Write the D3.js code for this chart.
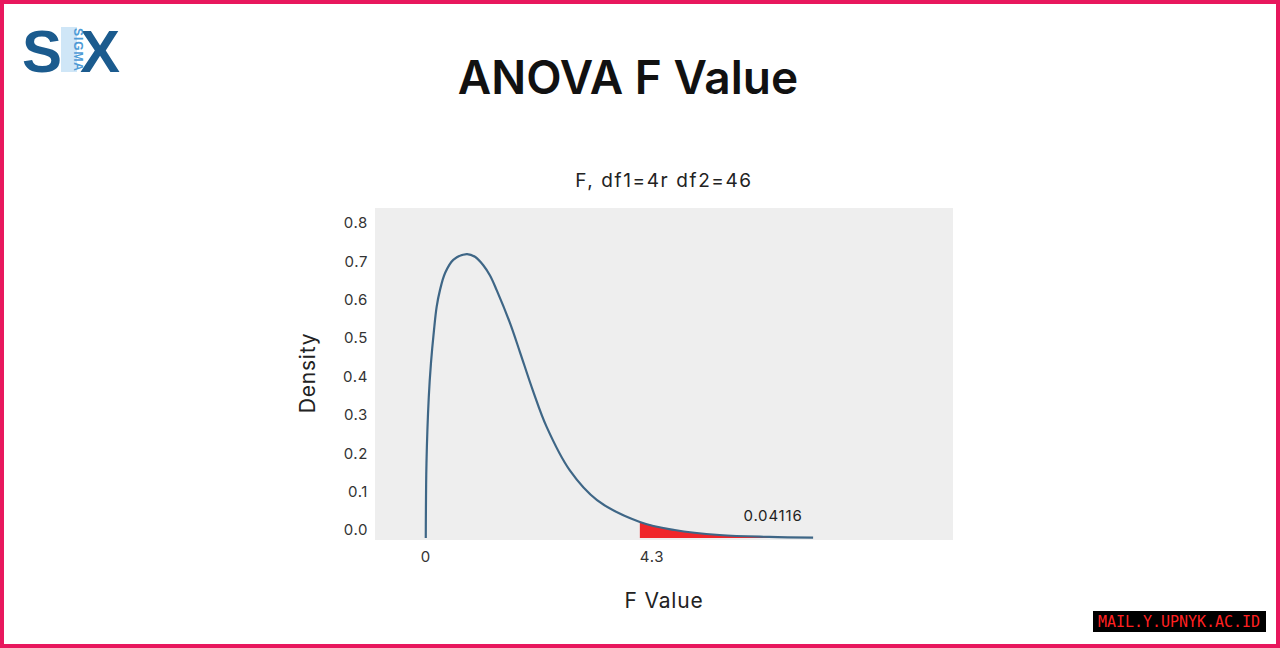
<!DOCTYPE html>
<html>
<head>
<meta charset="utf-8">
<script src="https://cdn.jsdelivr.net/npm/d3@7"></script>
<style>
  html, body { margin: 0; padding: 0; background: #fff; }
  svg { display: block; }
</style>
</head>
<body>
<svg id="chart" width="1280" height="648"></svg>
<script>
// ---- data ----
const fValues  = [0, 0.014, 0.06, 0.104, 0.165, 0.219, 0.285, 0.386, 0.552, 0.822, 0.988, 1.155, 1.290, 1.424, 1.692, 1.893, 2.15, 2.43, 2.89, 3.44, 4.30, 5.0, 5.9, 6.9, 7.78];
const density  = [0, 0.195, 0.367, 0.456, 0.542, 0.603, 0.646, 0.690, 0.725, 0.740, 0.733, 0.711, 0.684, 0.646, 0.560, 0.484, 0.385, 0.289, 0.177, 0.099, 0.042, 0.021, 0.008, 0.003, 0.001];
const yTicks   = [0, 0.1, 0.2, 0.3, 0.4, 0.5, 0.6, 0.7, 0.8];
const yTickLabels = ["0.0", "0.1", "0.2", "0.3", "0.4", "0.5", "0.6", "0.7", "0.8"];
const xTicks   = [0, 4.3];
const xTickLabels = ["0", "4.3"];
const criticalF = 4.3;
const tailLabel = "0.04116";
const titleText = "ANOVA F Value";
const subtitleText = "F, df1=4r df2=46";
const xLabel = "F Value";
const yLabel = "Density";

const svg = d3.select("#chart");
const W = 1280, H = 648;
const FONT = "Inter, Liberation Sans, sans-serif";

// scales
const x = d3.scaleLinear().domain([-1.02, 10.59]).range([375, 953]);
const y = d3.scaleLinear().domain([-0.005, 0.86]).range([540, 208]);

// frame border
svg.append("rect").attr("x", 2).attr("y", 2).attr("width", W - 4).attr("height", H - 4)
  .attr("fill", "#fff").attr("stroke", "#e8175d").attr("stroke-width", 4);

// logo
const logo = svg.append("g");
logo.append("text").attr("x", 22).attr("y", 72).text("S")
  .attr("font-family", "Liberation Sans, Arial, sans-serif").attr("font-weight", "bold")
  .attr("font-size", 60).attr("fill", "#1b5b8e");
logo.append("text").attr("x", 80).attr("y", 72).text("X")
  .attr("font-family", "Liberation Sans, Arial, sans-serif").attr("font-weight", "bold")
  .attr("font-size", 60).attr("fill", "#1b5b8e");
logo.append("rect").attr("x", 61).attr("y", 27).attr("width", 16).attr("height", 45).attr("fill", "#cfe6f7");
logo.append("text").attr("transform", "translate(74,28) rotate(90)").text("SIGMA")
  .attr("font-family", "Liberation Sans, Arial, sans-serif").attr("font-weight", "bold")
  .attr("font-size", 12).attr("textLength", 43).attr("fill", "#4d9bd6");

// title
svg.append("text").attr("x", 628).attr("y", 94).attr("text-anchor", "middle")
  .text(titleText).attr("font-family", FONT)
  .attr("font-weight", 600).attr("font-size", 46).attr("fill", "#111");

// subtitle
svg.append("text").attr("x", 664).attr("y", 187).attr("text-anchor", "middle")
  .text(subtitleText).attr("font-family", FONT)
  .attr("font-size", 19).attr("letter-spacing", 1.6).attr("fill", "#222");

// panel
svg.append("rect").attr("x", x.range()[0]).attr("y", y.range()[1])
  .attr("width", x.range()[1] - x.range()[0]).attr("height", y.range()[0] - y.range()[1])
  .attr("fill", "#eeeeee");

// y tick labels
svg.append("g").selectAll("text").data(yTicks).join("text")
  .attr("x", 368).attr("y", d => y(d) - 8).attr("dy", "0.35em")
  .attr("text-anchor", "end").text((d, i) => yTickLabels[i])
  .attr("font-family", FONT).attr("letter-spacing", 0.6)
  .attr("font-size", 15).attr("fill", "#333");

// x tick labels
svg.append("g").selectAll("text").data(xTicks).join("text")
  .attr("x", d => x(d)).attr("y", 562)
  .attr("text-anchor", (d, i) => i === 0 ? "middle" : "start")
  .text((d, i) => xTickLabels[i])
  .attr("font-family", FONT).attr("letter-spacing", 0.6)
  .attr("font-size", 15).attr("fill", "#333");

// axis labels
svg.append("text").attr("transform", "translate(315,373) rotate(-90)")
  .attr("text-anchor", "middle").text(yLabel)
  .attr("font-family", FONT).attr("letter-spacing", 0.8)
  .attr("font-size", 21).attr("fill", "#222");
svg.append("text").attr("x", 664).attr("y", 608).attr("text-anchor", "middle")
  .text(xLabel).attr("font-family", FONT).attr("letter-spacing", 0.8)
  .attr("font-size", 21).attr("fill", "#222");

// data
const pts = fValues.map((f, i) => ({ f, d: density[i] }));
const tail = pts.filter(p => p.f >= criticalF);

const curve = d3.curveCatmullRom.alpha(0.5);
const area = d3.area().x(p => x(p.f)).y0(y(0)).y1(p => y(p.d)).curve(curve);
svg.append("path").datum(tail).attr("d", area).attr("fill", "#f0262a");

const line = d3.line().x(p => x(p.f)).y(p => y(p.d)).curve(curve);
svg.append("path").datum(pts).attr("d", line)
  .attr("fill", "none").attr("stroke", "#3e6686").attr("stroke-width", 2.2);

// tail annotation
svg.append("text").attr("x", 773).attr("y", 521).attr("text-anchor", "middle")
  .text(tailLabel).attr("font-family", FONT).attr("letter-spacing", 0.8)
  .attr("font-size", 15).attr("fill", "#222");

// watermark
svg.append("rect").attr("x", 1093).attr("y", 611).attr("width", 173).attr("height", 21).attr("fill", "#000");
svg.append("text").attr("x", 1179).attr("y", 627).attr("text-anchor", "middle")
  .text("MAIL.Y.UPNYK.AC.ID").attr("font-family", "DejaVu Sans Mono, monospace")
  .attr("font-size", 15).attr("textLength", 162).attr("fill", "#ff2020");
</script>
</body>
</html>
